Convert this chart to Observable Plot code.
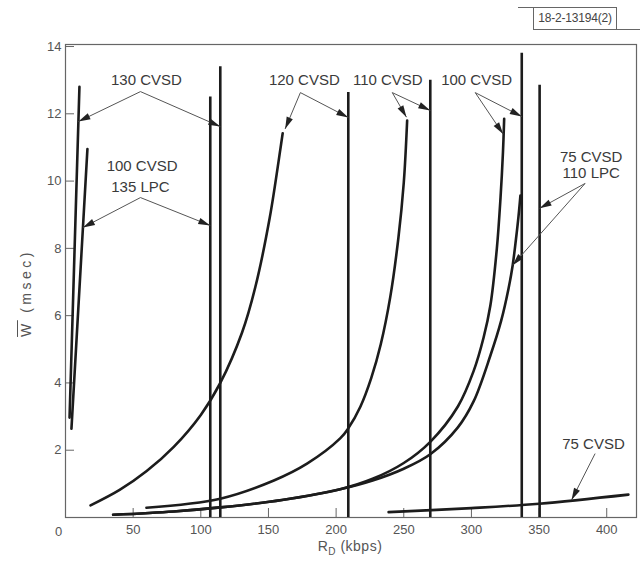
<!DOCTYPE html>
<html>
<head>
<meta charset="utf-8">
<script src="https://cdn.jsdelivr.net/npm/d3@7"></script>
<script src="https://cdn.jsdelivr.net/npm/@observablehq/plot@0.6"></script>
<style>
  body { margin: 0; background: #fff; }
  #wrap { position: relative; width: 643px; height: 572px; font-family: "Liberation Sans", Arial, sans-serif; color: #555; }
  #wrap svg { display: block; }
  #code { position: absolute; left: 533px; top: 7px; width: 84px; height: 23px; box-sizing: border-box; border: 1.5px solid #666; font-size: 12px; line-height: 20px; text-align: center; color: #444; letter-spacing: -0.2px; }
  #codeL { position: absolute; left: 518px; top: 7px; width: 16px; border-top: 1.5px solid #666; }
  #codeR { position: absolute; left: 616px; top: 28.5px; width: 24px; border-top: 1.5px solid #666; }
  #ytitle { position: absolute; left: 26px; top: 293px; transform: translate(-50%, -50%) rotate(-90deg); white-space: nowrap; font-size: 14px; letter-spacing: 3.5px; color: #555; }
  #ytitle .ov { text-decoration: overline; }
  #xtitle { position: absolute; left: 350px; top: 538px; transform: translateX(-50%); white-space: nowrap; font-size: 14px; letter-spacing: 0.5px; color: #555; }
  #xtitle sub { font-size: 10px; }
</style>
</head>
<body>
<div id="wrap">
  <div id="codeL"></div>
  <div id="code">18-2-13194(2)</div>
  <div id="codeR"></div>
  <div id="ytitle"><span class="ov">W</span> (msec)</div>
  <div id="xtitle">R<sub>D</sub> (kbps)</div>
</div>
<script>
// ---- tick values ----
const xTicks = [50, 100, 150, 200, 250, 300, 350, 400];
const yTicks = [2, 4, 6, 8, 10, 12, 14];
const originTick = [0];

// ---- vertical asymptote lines (x position, top value) ----
const verticalX   = [107, 114.4, 209, 269.6, 337.2, 350.4];
const verticalTop = [12.5, 13.4, 12.63, 13.0, 13.8, 12.85];

// ---- curves: [R_D kbps, W msec] ----
const steep130 = [[3.0, 2.97], [10.3, 12.8]];
const steep100 = [[4.4, 2.64], [16.2, 10.95]];
const cvsd120 = [[18.5, 0.36], [40, 0.82], [60, 1.38], [80, 2.1], [100, 3.05], [114.4, 4.0], [130.5, 5.5], [140.3, 6.85], [150.9, 8.9], [158.8, 10.95], [160.5, 11.42]];
const cvsd110 = [[59.8, 0.29], [114.4, 0.56], [154, 1.1], [178.5, 1.6], [203, 2.35], [209, 2.65], [218, 3.3], [226, 4.15], [233, 5.15], [240, 6.55], [246, 8.3], [250, 9.95], [252.5, 11.8]];
const cvsd100 = [[35.2, 0.08], [80, 0.18], [114.4, 0.3], [160, 0.52], [203, 0.84], [227, 1.15], [250, 1.62], [269.6, 2.25], [290, 3.3], [301.6, 4.35], [309, 5.35], [314, 6.3], [318.8, 8.0], [321.5, 9.5], [323.3, 10.85], [324.2, 11.85]];
const cvsd75lpc110 = [[35.2, 0.08], [80, 0.18], [114.4, 0.3], [160, 0.52], [203, 0.84], [227, 1.1], [250, 1.45], [269.6, 1.88], [290, 2.68], [301.6, 3.45], [313.9, 4.8], [322, 5.85], [327.4, 6.8], [330.5, 7.5], [333, 8.3], [334.8, 8.95], [336.2, 9.57]];
const cvsd75 = [[238.8, 0.16], [300, 0.28], [350, 0.41], [416, 0.68]];
const curveNames = ["130 CVSD steep", "100 CVSD/135 LPC steep", "120 CVSD", "110 CVSD", "100 CVSD", "75 CVSD/110 LPC", "75 CVSD"];

// ---- annotation labels ----
const labelText = ["130 CVSD", "100 CVSD", "135 LPC", "120 CVSD", "110 CVSD", "100 CVSD", "75 CVSD", "110 LPC", "75 CVSD"];
const labelX    = [59.8, 56.6, 55.4, 176.5, 238.2, 303.8, 388.5, 388.5, 390.2];
const labelY    = [12.99, 10.43, 9.82, 12.99, 12.99, 12.99, 10.71, 10.22, 2.19];

// ---- annotation arrows ----
const arrowX1 = [55.4, 55.4, 55.4, 55.4, 173.6, 173.6, 241.5, 241.5, 302.8, 302.8, 384, 384, 391.4];
const arrowY1 = [12.66, 12.66, 9.51, 9.51, 12.63, 12.63, 12.63, 12.63, 12.63, 12.63, 9.93, 9.93, 1.9];
const arrowX2 = [9.53, 114.4, 12.9, 107, 162.3, 209, 252, 269.6, 323.4, 337.2, 350.4, 330.5, 374];
const arrowY2 = [11.77, 11.62, 8.62, 8.68, 11.55, 11.89, 11.9, 12.1, 11.4, 11.92, 9.19, 7.5, 0.52];

// build tables
const curveData = [steep130, steep100, cvsd120, cvsd110, cvsd100, cvsd75lpc110, cvsd75];
const lineRows = curveData.flatMap((pts, k) => pts.map(([x, y]) => ({series: curveNames[k], x, y})));
const verticals = verticalX.map((x, i) => ({x, top: verticalTop[i]}));
const labels = labelText.map((t, i) => ({text: t, x: labelX[i], y: labelY[i]}));
const arrows = arrowX1.map((x1, i) => ({x1, y1: arrowY1[i], x2: arrowX2[i], y2: arrowY2[i]}));

function filledArrow(color, context) {
  const m = d3.create("svg:marker")
    .attr("viewBox", "-12 -4 13 8")
    .attr("markerWidth", 13)
    .attr("markerHeight", 8)
    .attr("markerUnits", "userSpaceOnUse")
    .attr("orient", "auto")
    .attr("overflow", "visible");
  m.append("path").attr("d", "M-12,-3.3L0,0L-12,3.3Z").attr("fill", "#222").attr("stroke", "none");
  return m.node();
}

const ink = "#1c1c1c";
const plot = Plot.plot({
  width: 643,
  height: 572,
  marginTop: 44,
  marginBottom: 55,
  marginLeft: 65,
  marginRight: 7,
  x: {domain: [0, 422]},
  y: {domain: [0, 14.06]},
  style: {fontFamily: '"Liberation Sans", Arial, sans-serif', fontSize: "13px", color: "#555", background: "#fff"},
  marks: [
    Plot.axisX(xTicks, {tickSize: -9, tickFormat: () => "", label: null, stroke: "#666"}),
    Plot.axisX(xTicks, {tickSize: 0, tickPadding: 7, label: null, fill: "#555"}),
    Plot.axisY(yTicks, {tickSize: -9, tickFormat: () => "", label: null, stroke: "#666"}),
    Plot.axisY(yTicks, {tickSize: 0, tickPadding: 4, label: null, fill: "#555"}),
    Plot.text(originTick, {x: d => d, y: d => d, text: d => String(d), dx: -7, dy: 14, fontSize: 13, fill: "#555"}),
    Plot.frame({stroke: "#666", strokeWidth: 1.2}),
    Plot.ruleX(verticals, {x: "x", y1: 0, y2: "top", stroke: ink, strokeWidth: 2.6}),
    Plot.line(lineRows, {x: "x", y: "y", z: "series", curve: "catmull-rom", stroke: ink, strokeWidth: 2.6}),
    Plot.link(arrows, {x1: "x1", y1: "y1", x2: "x2", y2: "y2", stroke: "#555", strokeWidth: 1, markerEnd: filledArrow}),
    Plot.text(labels, {x: "x", y: "y", text: "text", fontSize: 15, fill: "#3a3a3a"})
  ]
});
document.getElementById("wrap").prepend(plot);
</script>
</body>
</html>
